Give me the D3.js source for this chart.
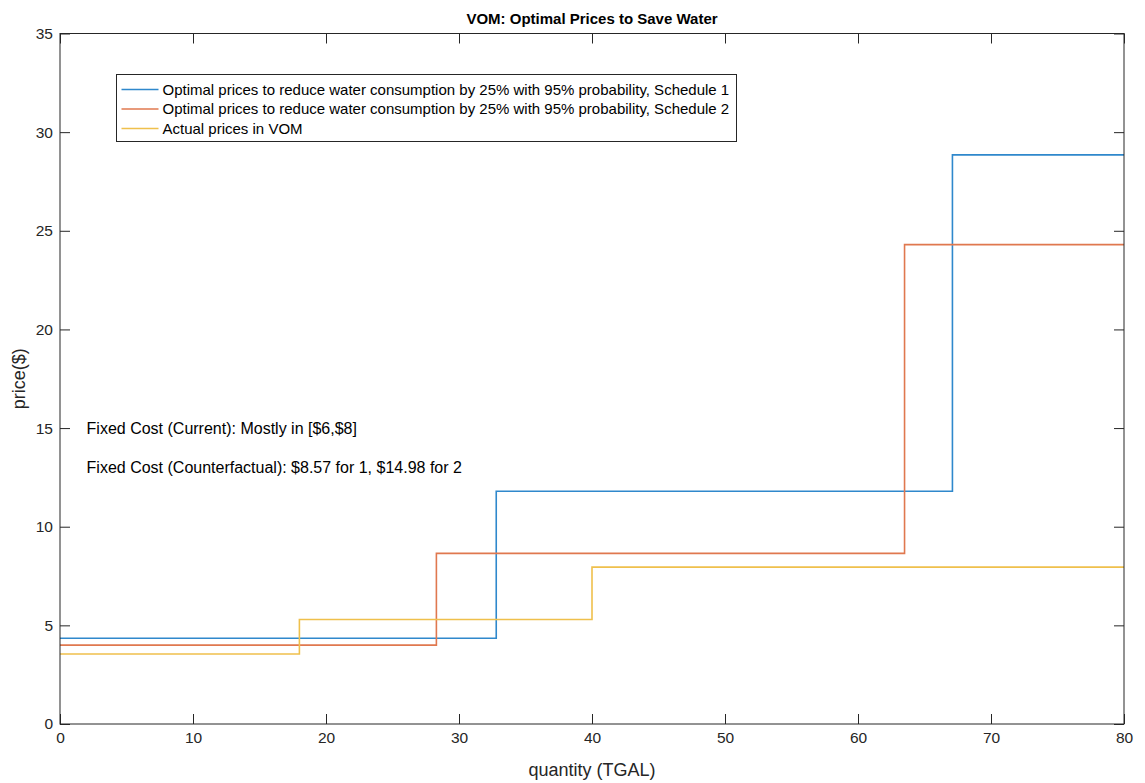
<!DOCTYPE html>
<html>
<head>
<meta charset="utf-8">
<script src="https://cdn.jsdelivr.net/npm/d3@7"></script>
<style>
  body { margin: 0; background: #fff; }
  svg { display: block; font-family: "Liberation Sans", Arial, sans-serif; }
</style>
</head>
<body>
<div id="chart"></div>
<script>
'use strict';

// step edges (x) and price levels for each series
var schedule1X = [0, 32.8, 67.1, 80];
var schedule1Y = [4.35, 11.8, 28.85];
var schedule2X = [0, 28.3, 63.5, 80];
var schedule2Y = [4.0, 8.65, 24.3];
var actualX = [0, 18, 40, 80];
var actualY = [3.55, 5.3, 7.95];

var seriesNames = [
    "Optimal prices to reduce water consumption by 25% with 95% probability, Schedule 1",
    "Optimal prices to reduce water consumption by 25% with 95% probability, Schedule 2",
    "Actual prices in VOM"
];
var seriesColors = ["#2f88cc", "#e0784f", "#efc04c"];

var xTicks = [0, 10, 20, 30, 40, 50, 60, 70, 80];
var yTicks = [0, 5, 10, 15, 20, 25, 30, 35];

var notes = [
    { x: 2, y: 15, text: "Fixed Cost (Current): Mostly in [$6,$8]" },
    { x: 2, y: 13, text: "Fixed Cost (Counterfactual): $8.57 for 1, $14.98 for 2" }
];

var W = 1145, H = 783;
var margin = { top: 33.5, right: 21, bottom: 59, left: 60 };
var innerW = W - margin.left - margin.right;
var innerH = H - margin.top - margin.bottom;
var tickLen = 10;
var axisColor = "#262626";

var svg = d3.select("#chart").append("svg")
    .attr("width", W)
    .attr("height", H);

var g = svg.append("g")
    .attr("transform", "translate(" + margin.left + "," + margin.top + ")");

var x = d3.scaleLinear().domain([0, 80]).range([0, innerW]);
var y = d3.scaleLinear().domain([0, 35]).range([innerH, 0]);

// build step points from edges and levels
function stepPoints(xs, ys) {
    var pts = [];
    for (var i = 0; i < ys.length; i++) {
        pts.push([xs[i], ys[i]]);
        pts.push([xs[i + 1], ys[i]]);
    }
    return pts;
}

var series = [
    stepPoints(schedule1X, schedule1Y),
    stepPoints(schedule2X, schedule2Y),
    stepPoints(actualX, actualY)
];

var line = d3.line()
    .x(function (d) { return x(d[0]); })
    .y(function (d) { return y(d[1]); });

for (var j = 0; j < series.length; j++) {
    g.append("path")
        .attr("fill", "none")
        .attr("stroke", seriesColors[j])
        .attr("stroke-width", 1.6)
        .attr("d", line(series[j]));
}

// axes with inward ticks (box on)
function styleAxis(sel) {
    sel.select(".domain").remove();
    sel.selectAll("line").attr("stroke", axisColor);
    sel.selectAll("text").attr("fill", axisColor).style("font-size", "15.5px");
}

g.append("g")
    .attr("transform", "translate(0," + innerH + ")")
    .call(d3.axisBottom(x).tickValues(xTicks).tickSizeInner(-tickLen).tickSizeOuter(0).tickPadding(8))
    .call(styleAxis);

g.append("g")
    .call(d3.axisTop(x).tickValues(xTicks).tickSizeInner(-tickLen).tickSizeOuter(0).tickFormat(""))
    .call(styleAxis);

g.append("g")
    .call(d3.axisLeft(y).tickValues(yTicks).tickSizeInner(-tickLen).tickSizeOuter(0).tickPadding(7))
    .call(styleAxis);

g.append("g")
    .attr("transform", "translate(" + innerW + ",0)")
    .call(d3.axisRight(y).tickValues(yTicks).tickSizeInner(-tickLen).tickSizeOuter(0).tickFormat(""))
    .call(styleAxis);

g.append("rect")
    .attr("width", innerW)
    .attr("height", innerH)
    .attr("fill", "none")
    .attr("stroke", axisColor)
    .attr("stroke-width", 1);

// text annotations
g.selectAll(".note").data(notes).enter().append("text")
    .attr("class", "note")
    .attr("x", function (d) { return x(d.x); })
    .attr("y", function (d) { return y(d.y); })
    .attr("dy", "0.35em")
    .attr("fill", "#000")
    .style("font-size", "16px")
    .text(function (d) { return d.text; });

// legend
var legend = svg.append("g").attr("transform", "translate(116.5,74.5)");
legend.append("rect")
    .attr("width", 620)
    .attr("height", 67)
    .attr("fill", "#fff")
    .attr("stroke", axisColor);

seriesNames.forEach(function (name, i) {
    var ly = 15 + i * 19.5;
    legend.append("line")
        .attr("x1", 5).attr("x2", 42)
        .attr("y1", ly).attr("y2", ly)
        .attr("stroke", seriesColors[i])
        .attr("stroke-width", 1.6);
    legend.append("text")
        .attr("x", 46)
        .attr("y", ly)
        .attr("dy", "0.35em")
        .style("font-size", "15px")
        .attr("fill", "#000")
        .text(name);
});

// title and axis labels
svg.append("text")
    .attr("x", margin.left + innerW / 2)
    .attr("y", 24)
    .attr("text-anchor", "middle")
    .style("font-size", "15px")
    .style("font-weight", "bold")
    .attr("fill", "#000")
    .text("VOM: Optimal Prices to Save Water");

svg.append("text")
    .attr("x", margin.left + innerW / 2)
    .attr("y", 776)
    .attr("text-anchor", "middle")
    .style("font-size", "18px")
    .attr("fill", axisColor)
    .text("quantity (TGAL)");

svg.append("text")
    .attr("transform", "translate(25," + (margin.top + innerH / 2) + ") rotate(-90)")
    .attr("text-anchor", "middle")
    .style("font-size", "18px")
    .attr("fill", axisColor)
    .text("price($)");
</script>
</body>
</html>
